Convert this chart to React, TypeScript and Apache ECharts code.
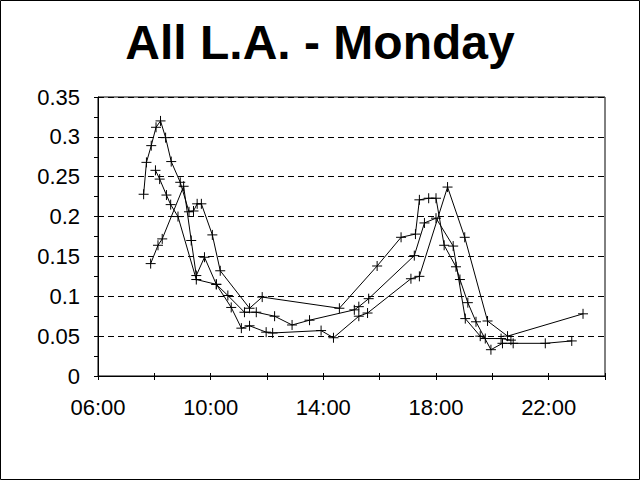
import React, { useEffect, useRef } from "react";
import * as echarts from "echarts";

const titleText = "All L.A. - Monday";

const labelHours = [6, 10, 14, 18, 22];
const xTickLabels = ["06:00", "10:00", "14:00", "18:00", "22:00"];

const seriesAHours = [7.62, 7.72, 7.89, 8.06, 8.22, 8.4, 8.6, 8.92, 9.23, 9.39, 9.52, 9.67, 10.06, 10.34, 11.38, 11.83, 14.57, 15.91, 16.76, 17.27, 17.41, 17.74, 18.0, 18.29, 18.71, 18.85, 19.13, 19.42, 19.95, 20.36, 20.74, 21.88, 22.82];
const seriesAValues = [0.228, 0.268, 0.289, 0.312, 0.32, 0.299, 0.269, 0.243, 0.206, 0.207, 0.216, 0.216, 0.177, 0.132, 0.085, 0.099, 0.085, 0.138, 0.174, 0.178, 0.221, 0.223, 0.223, 0.164, 0.137, 0.121, 0.092, 0.068, 0.033, 0.041, 0.041, 0.041, 0.044];

const seriesBHours = [8.04, 8.19, 8.43, 8.58, 8.84, 9.49, 10.2, 10.61, 11.2, 11.62, 12.27, 12.89, 13.51, 15.1, 15.26, 15.61, 17.23, 17.59, 18.0, 18.61, 19.04, 19.57, 19.75, 20.31, 20.66];
const seriesBValues = [0.258, 0.247, 0.227, 0.215, 0.2, 0.121, 0.115, 0.101, 0.08, 0.08, 0.075, 0.064, 0.07, 0.083, 0.087, 0.097, 0.151, 0.192, 0.198, 0.163, 0.072, 0.05, 0.047, 0.047, 0.045];

const seriesCHours = [7.87, 8.13, 8.28, 9.04, 9.31, 9.49, 9.78, 10.2, 10.73, 11.09, 11.38, 11.97, 12.2, 13.92, 14.36, 15.26, 15.57, 17.11, 17.41, 18.41, 19.02, 19.83, 20.54, 23.22];
const seriesCValues = [0.141, 0.164, 0.172, 0.238, 0.17, 0.126, 0.149, 0.115, 0.086, 0.06, 0.063, 0.055, 0.054, 0.057, 0.048, 0.075, 0.079, 0.122, 0.125, 0.237, 0.174, 0.069, 0.05, 0.078];

const FONT = "'Liberation Sans', Arial, sans-serif";

function pairs(h: number[], v: number[]) {
  return h.map((x, i) => [x, v[i]]);
}

function makeSeries(h: number[], v: number[]) {
  return {
    type: "line",
    data: pairs(h, v),
    xAxisIndex: 0,
    yAxisIndex: 0,
    symbol: "path://M0,5L10,5M5,0L5,10",
    symbolSize: 10,
    showSymbol: true,
    lineStyle: { color: "#000", width: 1 },
    itemStyle: { color: "rgba(0,0,0,0)", borderColor: "#000", borderWidth: 1 },
    emphasis: { disabled: true },
  };
}

export default function App() {
  const ref = useRef<HTMLDivElement>(null);
  useEffect(() => {
    document.body.style.margin = "0";
    if (!ref.current) return;
    const chart = echarts.init(ref.current, undefined, { renderer: "svg" });
    chart.setOption({
      animation: false,
      backgroundColor: "#fff",
      title: {
        text: titleText,
        left: "center",
        top: 13,
        textStyle: { fontFamily: FONT, fontSize: 48, fontWeight: "bold", color: "#000" },
      },
      grid: {
        left: 98,
        right: 35,
        top: 97,
        bottom: 104,
        show: true,
        borderColor: "#000",
        borderWidth: 1,
        backgroundColor: "transparent",
      },
      xAxis: [
        {
          type: "value",
          min: 6,
          max: 24,
          interval: 2,
          position: "bottom",
          axisLine: { show: true, onZero: false, lineStyle: { color: "#000", width: 1 } },
          axisTick: { show: true, length: 4, lineStyle: { color: "#000" } },
          splitLine: { show: false },
          axisLabel: {
            margin: 20,
            fontFamily: FONT,
            fontSize: 22,
            color: "#000",
            formatter: (v: number) => {
              const i = labelHours.indexOf(v);
              return i >= 0 ? xTickLabels[i] : "";
            },
          },
        },
        {
          type: "value",
          min: 6,
          max: 24,
          interval: 2,
          position: "bottom",
          offset: 0,
          axisLine: { show: false },
          axisTick: { show: true, inside: true, length: 3, lineStyle: { color: "#000" } },
          splitLine: { show: false },
          axisLabel: { show: false },
        },
      ],
      yAxis: {
        type: "value",
        min: 0,
        max: 0.35,
        interval: 0.05,
        axisLine: { show: true, onZero: false, lineStyle: { color: "#000", width: 1 } },
        axisTick: { show: true, length: 4, lineStyle: { color: "#000" } },
        minorTick: { show: true, splitNumber: 2, length: 4, lineStyle: { color: "#000" } },
        splitLine: { show: true, lineStyle: { color: "#000", width: 1, type: [6, 4] } },
        axisLabel: { margin: 18, fontFamily: FONT, fontSize: 22, color: "#000" },
      },
      graphic: [
        {
          type: "rect",
          shape: { x: 0.5, y: 0.5, width: 639, height: 479 },
          style: { fill: "none", stroke: "#000", lineWidth: 1 },
          silent: true,
          z: 100,
        },
      ],
      series: [
        makeSeries(seriesAHours, seriesAValues),
        makeSeries(seriesBHours, seriesBValues),
        makeSeries(seriesCHours, seriesCValues),
      ],
    });
    return () => chart.dispose();
  }, []);
  return <div ref={ref} style={{ width: 640, height: 480 }} />;
}
